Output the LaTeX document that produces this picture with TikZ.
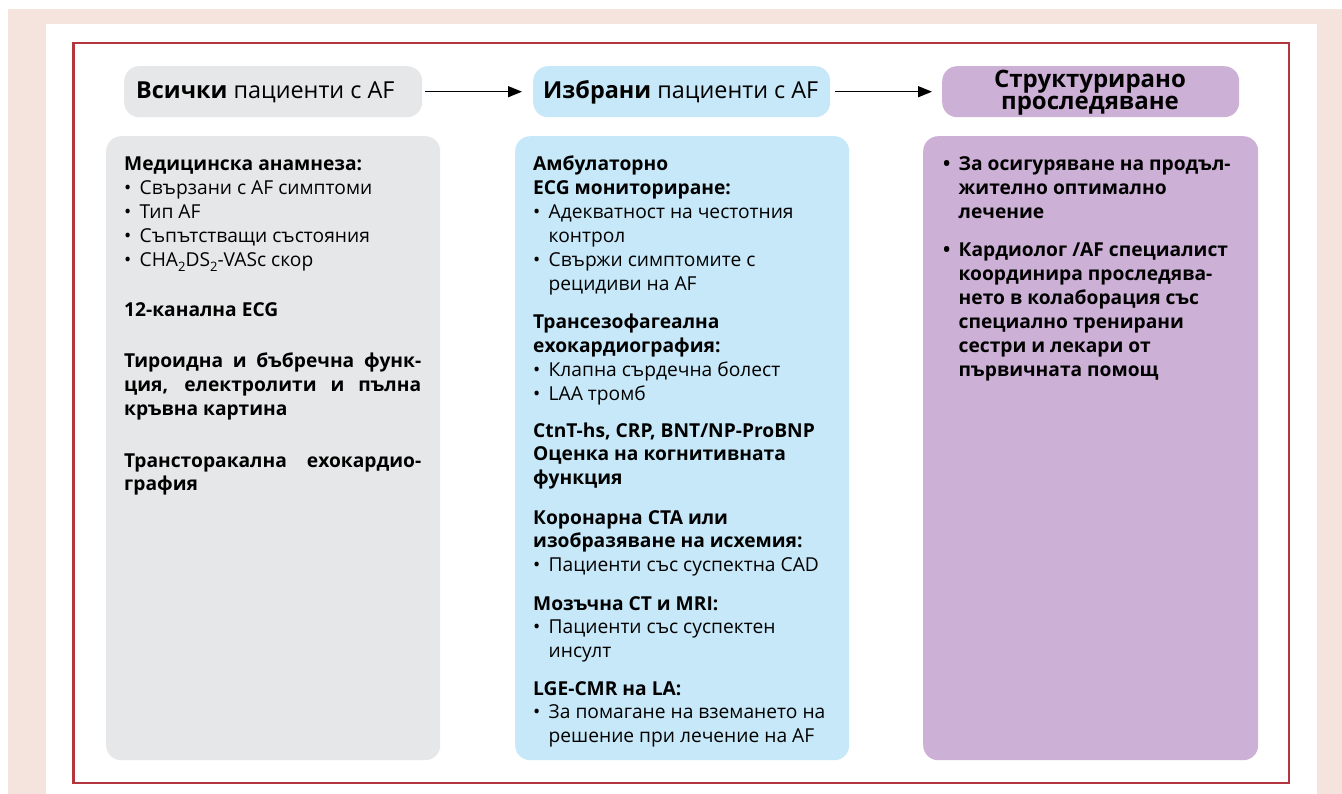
\documentclass[tikz,border=0pt]{standalone}
\usepackage{fontspec}
\setmainfont{Open Sans}
\usetikzlibrary{arrows.meta}

\definecolor{pinkbg}{HTML}{F5E3DE}
\definecolor{framered}{HTML}{B3363F}
\definecolor{greybox}{HTML}{E6E7E8}
\definecolor{bluebox}{HTML}{C6E8F8}
\definecolor{purplebox}{HTML}{CCB0D6}

% body text: bullet items and their continuation lines
\newcommand{\bodyfont}{\fontsize{19.2}{23.9}\selectfont}
\newcommand{\itm}[1]{\makebox[15.5pt][l]{•}#1}
\newcommand{\cnt}[1]{\hspace*{15.5pt}#1}
\newcommand{\just}[1]{\makebox[297pt][s]{#1}}
\newcommand{\sub}[1]{\raisebox{-4.5pt}{\fontsize{13}{13}\selectfont #1}}

\begin{document}
\begin{tikzpicture}[x=1pt,y=-1pt,
  panel/.style={rounded corners=15pt, draw=none, anchor=north west, inner sep=0pt},
  headbox/.style={panel, minimum height=51pt},
  bodybox/.style={panel, minimum height=624pt},
  txt/.style={anchor=base west, inner sep=0pt, font=\bodyfont},
  headtxt/.style={anchor=base west, inner sep=0pt, font=\fontsize{23.4}{23.4}\selectfont},
  flow/.style={-{Triangle[length=14pt,width=11pt]}, line width=1.3pt, black}
]
\useasboundingbox (0,0) rectangle (1342,794);
\fill[white] (0,0) rectangle (1342,794);
\fill[pinkbg] (8,9) rectangle (1342,794);
\fill[white] (46,24) rectangle (1317,794);
\draw[framered, line width=2.6pt] (73.5,43) rectangle (1289,783);

% header boxes
\node[headbox, fill=greybox, minimum width=298pt] (h1) at (124,66) {};
\node[headbox, fill=bluebox, minimum width=297pt] (h2) at (533,66) {};
\node[headbox, fill=purplebox, minimum width=297pt] (h3) at (942,66) {};

\node[headtxt] (h1t) at (136,99) {\textbf{Всички} пациенти с AF};
\node[headtxt] (h2t) at (543,99) {\textbf{Избрани} пациенти с AF};
\node[anchor=base, inner sep=0pt, font=\fontsize{24}{22}\selectfont\bfseries] (h3t) at (1090,88)
  {\parbox[t]{290pt}{\centering Структурирано\\проследяване}};

% arrows between the stages
\draw[flow, shorten <=3pt, shorten >=11pt] (h1.east) -- (h2.west);
\draw[flow, shorten <=5pt, shorten >=10pt] (h2.east) -- (h3.west);

% body boxes
\node[bodybox, fill=greybox, minimum width=334pt] (b1) at (106,136) {};
\node[bodybox, fill=bluebox, minimum width=334pt] (b2) at (515,136) {};
\node[bodybox, fill=purplebox, minimum width=335pt] (b3) at (923,136) {};

% all patients
\node[txt] (a1) at (124,171) {\parbox[t]{320pt}{\raggedright
  \textbf{Медицинска анамнеза:}\\
  \itm{Свързани с AF симптоми}\\
  \itm{Тип AF}\\
  \itm{Съпътстващи състояния}\\
  \itm{CHA\sub{2}DS\sub{2}-VASc скор}}};
\node[txt] (a2) at (124,317) {\textbf{12-канална ECG}};
\node[txt] (a3) at (124,368) {\parbox[t]{320pt}{\raggedright\bfseries
  \just{Тироидна и бъбречна функ-}\\
  \just{ция, електролити и пълна}\\
  кръвна картина}};
\node[txt] (a4) at (124,467) {\parbox[t]{320pt}{\raggedright\bfseries
  \just{Трансторакална ехокардио-}\\
  графия}};

% selected patients
\node[txt] (s1) at (533,171) {\parbox[t]{320pt}{\raggedright
  \textbf{Амбулаторно}\\
  \textbf{ECG мониториране:}\\
  \itm{Адекватност на честотния}\\
  \cnt{контрол}\\
  \itm{Свържи симптомите с}\\
  \cnt{рецидиви на AF}}};
\node[txt] (s2) at (533,329) {\parbox[t]{320pt}{\raggedright
  \textbf{Трансезофагеална}\\
  \textbf{ехокардиография:}\\
  \itm{Клапна сърдечна болест}\\
  \itm{LAA тромб}}};
\node[txt] (s3) at (533,437) {\parbox[t]{320pt}{\raggedright\bfseries
  CtnT-hs, CRP, BNT/NP-ProBNP\\
  Оценка на когнитивната\\
  функция}};
\node[txt] (s4) at (533,524) {\parbox[t]{320pt}{\raggedright
  \textbf{Коронарна CTA или}\\
  \textbf{изобразяване на исхемия:}\\
  \itm{Пациенти със суспектна CAD}}};
\node[txt] (s5) at (533,610) {\parbox[t]{320pt}{\raggedright
  \textbf{Мозъчна CT и MRI:}\\
  \itm{Пациенти със суспектен}\\
  \cnt{инсулт}}};
\node[txt] (s6) at (533,695) {\parbox[t]{320pt}{\raggedright
  \textbf{LGE-CMR на LA:}\\
  \itm{За помагане на вземането на}\\
  \cnt{решение при лечение на AF}}};

% structured follow-up
\node[txt] (f1) at (943,171) {\parbox[t]{320pt}{\raggedright\bfseries
  \itm{За осигуряване на продъл-}\\
  \cnt{жително оптимално}\\
  \cnt{лечение}}};
\node[txt] (f2) at (943,257) {\parbox[t]{320pt}{\raggedright\bfseries
  \itm{Кардиолог /AF специалист}\\
  \cnt{координира проследява-}\\
  \cnt{нето в колаборация със}\\
  \cnt{специално тренирани}\\
  \cnt{сестри и лекари от}\\
  \cnt{първичната помощ}}};
\end{tikzpicture}
\end{document}
